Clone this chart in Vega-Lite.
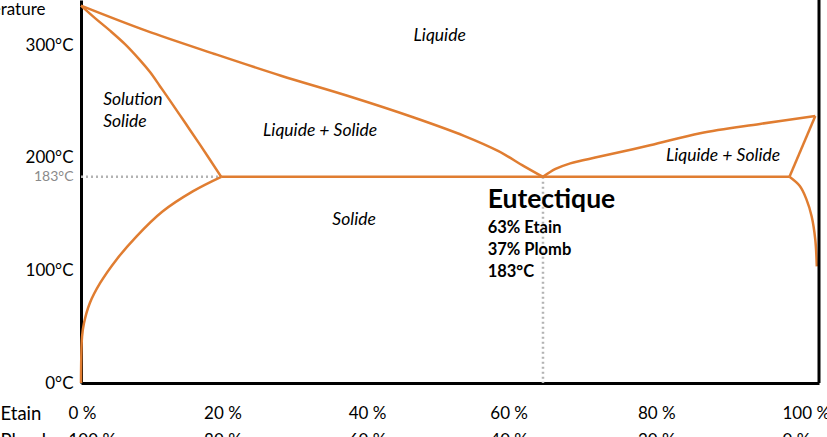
{
  "$schema": "https://vega.github.io/schema/vega-lite/v6.json",
  "width": 738,
  "height": 383,
  "autosize": "none",
  "padding": {"left": 81, "top": 0, "right": 8, "bottom": 54},
  "background": "white",
  "config": {"font": "Lato", "view": {"stroke": null}},
  "datasets": {
    "curves": [
      {"curve": "liqL", "o": 0, "x": 0, "T": 335},
      {"curve": "liqL", "o": 1, "x": 8.8, "T": 312.8},
      {"curve": "liqL", "o": 2, "x": 18.1, "T": 292.1},
      {"curve": "liqL", "o": 3, "x": 27.1, "T": 272.8},
      {"curve": "liqL", "o": 4, "x": 36.1, "T": 255},
      {"curve": "liqL", "o": 5, "x": 45.1, "T": 235.7},
      {"curve": "liqL", "o": 6, "x": 51.9, "T": 219.4},
      {"curve": "liqL", "o": 7, "x": 56.5, "T": 206},
      {"curve": "liqL", "o": 8, "x": 60.0, "T": 192.6},
      {"curve": "liqL", "o": 9, "x": 62.6, "T": 183},
      {"curve": "liqR", "o": 0, "x": 62.6, "T": 183},
      {"curve": "liqR", "o": 1, "x": 64.3, "T": 190},
      {"curve": "liqR", "o": 2, "x": 66.3, "T": 195},
      {"curve": "liqR", "o": 3, "x": 70.3, "T": 201},
      {"curve": "liqR", "o": 4, "x": 77.1, "T": 211},
      {"curve": "liqR", "o": 5, "x": 83.9, "T": 221.8},
      {"curve": "liqR", "o": 6, "x": 92, "T": 230},
      {"curve": "liqR", "o": 7, "x": 99.5, "T": 237},
      {"curve": "solR", "o": 0, "x": 99.5, "T": 237},
      {"curve": "solR", "o": 1, "x": 96, "T": 183},
      {"curve": "eut", "o": 0, "x": 19, "T": 183},
      {"curve": "eut", "o": 1, "x": 96, "T": 183},
      {"curve": "solL", "o": 0, "x": 0, "T": 335},
      {"curve": "solL", "o": 1, "x": 1.9, "T": 323.9},
      {"curve": "solL", "o": 2, "x": 3.93, "T": 312.8},
      {"curve": "solL", "o": 3, "x": 5.96, "T": 300.8},
      {"curve": "solL", "o": 4, "x": 7.99, "T": 286.6},
      {"curve": "solL", "o": 5, "x": 9.35, "T": 276.0},
      {"curve": "solL", "o": 6, "x": 10.7, "T": 263.5},
      {"curve": "solL", "o": 7, "x": 12.06, "T": 250.7},
      {"curve": "solL", "o": 8, "x": 14.09, "T": 231.2},
      {"curve": "solL", "o": 9, "x": 16.12, "T": 211.6},
      {"curve": "solL", "o": 10, "x": 19, "T": 183},
      {"curve": "svL", "o": 0, "x": 19, "T": 183},
      {"curve": "svL", "o": 1, "x": 15.2, "T": 170.3},
      {"curve": "svL", "o": 2, "x": 11.0, "T": 152},
      {"curve": "svL", "o": 3, "x": 7.5, "T": 130},
      {"curve": "svL", "o": 4, "x": 4.8, "T": 109.5},
      {"curve": "svL", "o": 5, "x": 2.6, "T": 88.8},
      {"curve": "svL", "o": 6, "x": 1.2, "T": 71},
      {"curve": "svL", "o": 7, "x": 0.4, "T": 53},
      {"curve": "svL", "o": 8, "x": 0.14, "T": 41},
      {"curve": "svL", "o": 9, "x": 0.04, "T": 23},
      {"curve": "svL", "o": 10, "x": 0, "T": 0},
      {"curve": "svR", "o": 0, "x": 96, "T": 183},
      {"curve": "svR", "o": 1, "x": 97.4, "T": 174.8},
      {"curve": "svR", "o": 2, "x": 98.3, "T": 163},
      {"curve": "svR", "o": 3, "x": 99, "T": 148},
      {"curve": "svR", "o": 4, "x": 99.5, "T": 127},
      {"curve": "svR", "o": 5, "x": 99.7, "T": 103.5}
    ],
    "guides": [
      {"curve": "h", "o": 0, "x": 0, "T": 183},
      {"curve": "h", "o": 1, "x": 19, "T": 183},
      {"curve": "v", "o": 0, "x": 62.6, "T": 183},
      {"curve": "v", "o": 1, "x": 62.6, "T": 0}
    ],
    "regions": [
      {"text": "Liquide", "x": 48.6, "T": 308},
      {"text": "Liquide + Solide", "x": 32.4, "T": 223.6},
      {"text": "Liquide + Solide", "x": 87.0, "T": 201.4},
      {"text": "Solide", "x": 37.0, "T": 144.6}
    ],
    "solution": [
      {"text": "Solution", "x": 3.0, "T": 251},
      {"text": "Solide", "x": 3.0, "T": 231.6}
    ],
    "eutTitle": [
      {"text": "Eutectique", "x": 55.1, "T": 162.4}
    ],
    "eutInfo": [
      {"text": "63% Etain", "x": 55.1, "T": 137.5},
      {"text": "37% Plomb", "x": 55.1, "T": 118},
      {"text": "183°C", "x": 55.1, "T": 98.5}
    ]
  },
  "layer": [
    {
      "data": {"name": "guides"},
      "mark": {"type": "line", "color": "#b3b3b3", "strokeWidth": 2.5, "strokeDash": [2, 3]},
      "encoding": {
        "x": {
          "field": "x", "type": "quantitative",
          "scale": {"domain": [0, 100], "nice": false, "zero": false},
          "axis": {
            "values": [0, 20, 40, 60, 80, 100],
            "labelExpr": "[datum.value + ' %', (100 - datum.value) + ' %']",
            "labelFontSize": 17,
            "labelColor": "black",
            "labelLineHeight": 27,
            "labelAlign": "left",
            "labelBaseline": "top",
            "labelPadding": 22,
            "labelFlush": false,
            "labelOverlap": false,
            "labelBound": false,
            "labelOffset": {
              "condition": [
                {"test": "datum.value == 0", "value": -13},
                {"test": "datum.value == 20", "value": -25},
                {"test": "datum.value == 40", "value": -28},
                {"test": "datum.value == 60", "value": -34},
                {"test": "datum.value == 80", "value": -34}
              ],
              "value": -37
            },
            "ticks": false,
            "grid": false,
            "domainColor": "black",
            "domainWidth": 3,
            "title": ["Etain", "Plomb"],
            "titleFontSize": 18.5,
            "titleFontWeight": "normal",
            "titleColor": "black",
            "titleLineHeight": 27,
            "titleAlign": "left",
            "titleAnchor": null,
            "titleBaseline": "top",
            "titleX": -81,
            "titleY": 21
          }
        },
        "y": {
          "field": "T", "type": "quantitative",
          "scale": {"domain": [0, 340], "nice": false, "zero": false},
          "axis": {
            "values": [0, 100, 183, 200, 300],
            "labelExpr": "datum.value + '°C'",
            "labelFontSize": {"condition": {"test": "datum.value == 183", "value": 14}, "value": 17},
            "labelColor": {"condition": {"test": "datum.value == 183", "value": "#8a8a8a"}, "value": "black"},
            "labelPadding": 8,
            "labelOverlap": false,
            "labelFlush": false,
            "labelBound": false,
            "ticks": false,
            "grid": false,
            "domainColor": "black",
            "domainWidth": 3,
            "title": "Température",
            "titleAngle": 0,
            "titleFontSize": 17,
            "titleFontWeight": "normal",
            "titleColor": "black",
            "titleAlign": "right",
            "titleAnchor": null,
            "titleBaseline": "middle",
            "titleX": -36,
            "titleY": 9
          }
        },
        "detail": {"field": "curve"},
        "order": {"field": "o", "type": "quantitative"}
      }
    },
    {
      "data": {"name": "curves"},
      "mark": {"type": "line", "color": "#E07D31", "strokeWidth": 2.5, "interpolate": "catmull-rom"},
      "encoding": {
        "x": {"field": "x", "type": "quantitative"},
        "y": {"field": "T", "type": "quantitative"},
        "detail": {"field": "curve"},
        "order": {"field": "o", "type": "quantitative"}
      }
    },
    {
      "data": {"values": [{"x": 100}]},
      "mark": {"type": "rule", "color": "black", "strokeWidth": 3},
      "encoding": {"x": {"field": "x", "type": "quantitative"}}
    },
    {
      "data": {"name": "regions"},
      "mark": {"type": "text", "fontStyle": "italic", "fontSize": 17.5, "color": "black", "align": "center", "baseline": "middle"},
      "encoding": {
        "x": {"field": "x", "type": "quantitative"},
        "y": {"field": "T", "type": "quantitative"},
        "text": {"field": "text"}
      }
    },
    {
      "data": {"name": "solution"},
      "mark": {"type": "text", "fontStyle": "italic", "fontSize": 17.5, "color": "black", "align": "left", "baseline": "middle"},
      "encoding": {
        "x": {"field": "x", "type": "quantitative"},
        "y": {"field": "T", "type": "quantitative"},
        "text": {"field": "text"}
      }
    },
    {
      "data": {"name": "eutTitle"},
      "mark": {"type": "text", "fontWeight": "bold", "fontSize": 26.5, "color": "black", "align": "left", "baseline": "middle"},
      "encoding": {
        "x": {"field": "x", "type": "quantitative"},
        "y": {"field": "T", "type": "quantitative"},
        "text": {"field": "text"}
      }
    },
    {
      "data": {"name": "eutInfo"},
      "mark": {"type": "text", "fontWeight": "bold", "fontSize": 16.5, "color": "black", "align": "left", "baseline": "middle"},
      "encoding": {
        "x": {"field": "x", "type": "quantitative"},
        "y": {"field": "T", "type": "quantitative"},
        "text": {"field": "text"}
      }
    }
  ]
}
